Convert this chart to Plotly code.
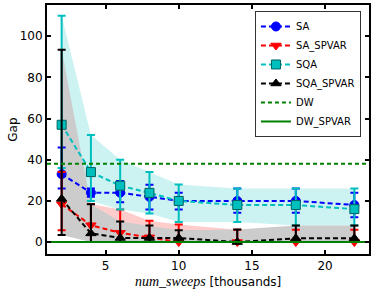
import plotly.graph_objects as go

# ---- data ----
num_sweeps = [2, 4, 6, 8, 10, 14, 18, 22]

sa_mean = [33, 24, 24, 22, 20, 20, 20, 18]
sa_low = [26, 22, 19.4, 15.8, 15.8, 14.2, 14.2, 12]
sa_high = [46, 26, 29.7, 27.9, 24, 26, 26, 24]

sa_spvar_mean = [18.4, 8.2, 4.5, 2.3, 0, 0, 0, 0]
sa_spvar_low = [5.8, 0, 0, 0, 0, 0, 0, 0]
sa_spvar_high = [34, 18.5, 15.8, 10.3, 8.5, 6, 6, 6]

sqa_mean = [57, 34, 27.4, 23.9, 20, 18, 18, 16]
sqa_low = [36, 20, 15.8, 13.9, 9.8, 9.8, 8, 8]
sqa_high = [110, 52, 40, 34, 28, 26, 26, 26]

sqa_spvar_mean = [21, 4.2, 2, 2, 2, 0, 1.8, 1.8]
sqa_spvar_low = [3.4, 0, 0, 0, 0, 0, 0, 0]
sqa_spvar_high = [93.4, 18.4, 10, 8, 5.8, 6.1, 8, 8]

dw_gap = 38
dw_spvar_gap = 0

x_range = [1, 23]
y_range = [-5.8, 115.2]
x_ticks = [5, 10, 15, 20]
y_ticks = [0, 20, 40, 60, 80, 100]

BLUE = "#0000ff"
RED = "#ff0000"
CYAN = "#00bfbf"
BLACK = "#000000"
GREEN = "#008000"

fig = go.Figure()


def band(low, high, color):
    fig.add_trace(go.Scatter(x=num_sweeps, y=low, mode="lines", line=dict(width=0),
                             showlegend=False, hoverinfo="skip"))
    fig.add_trace(go.Scatter(x=num_sweeps, y=high, mode="lines", line=dict(width=0),
                             fill="tonexty", fillcolor=color,
                             showlegend=False, hoverinfo="skip"))


band(sa_spvar_low, sa_spvar_high, "rgb(255,204,204)")
band(sqa_low, sqa_high, "rgb(204,242,242)")
band(sqa_spvar_low, sqa_spvar_high, "rgb(204,204,204)")


def series(name, mean, low, high, color, symbol, edge):
    plus = [h - m for h, m in zip(high, mean)]
    minus = [m - l for m, l in zip(mean, low)]
    fig.add_trace(go.Scatter(
        x=num_sweeps, y=mean, name=name, mode="lines+markers",
        line=dict(color=color, width=2, dash="5px,3px"),
        marker=dict(symbol=symbol, size=9, color=color, line=dict(color=edge, width=1)),
        error_y=dict(type="data", symmetric=False, array=plus, arrayminus=minus,
                     color=color, thickness=2, width=4),
    ))


series("SA", sa_mean, sa_low, sa_high, BLUE, "circle", BLUE)
series("SA_SPVAR", sa_spvar_mean, sa_spvar_low, sa_spvar_high, RED, "triangle-down", RED)
series("SQA", sqa_mean, sqa_low, sqa_high, CYAN, "square", "#006060")
series("SQA_SPVAR", sqa_spvar_mean, sqa_spvar_low, sqa_spvar_high, BLACK, "triangle-up", BLACK)

fig.add_trace(go.Scatter(x=x_range, y=[dw_gap, dw_gap], name="DW", mode="lines",
                         line=dict(color=GREEN, width=2, dash="4px,3px")))
fig.add_trace(go.Scatter(x=x_range, y=[dw_spvar_gap, dw_spvar_gap], name="DW_SPVAR", mode="lines",
                         line=dict(color=GREEN, width=2)))

axis_common = dict(showline=True, linecolor="black", linewidth=2, mirror="ticks",
                   ticks="inside", ticklen=4, tickwidth=1.5, tickcolor="black",
                   showgrid=False, zeroline=False,
                   tickfont=dict(family="DejaVu Sans", size=12, color="black"))

fig.update_layout(
    width=374, height=290,
    margin=dict(l=47, r=3, t=4, b=36),
    paper_bgcolor="white", plot_bgcolor="white",
    font=dict(family="DejaVu Sans", size=12, color="black"),
    xaxis=dict(range=x_range, tickvals=x_ticks, **axis_common),
    yaxis=dict(range=y_range, tickvals=y_ticks, **axis_common),
    legend=dict(x=0.975, y=0.976, xanchor="right", yanchor="top",
                bgcolor="white", bordercolor="#333", borderwidth=1,
                font=dict(family="DejaVu Sans", size=10, color="black"),
                tracegroupgap=0, itemwidth=30, traceorder="normal"),
    showlegend=True,
    annotations=[
        dict(text="<span style='font-family:Liberation Serif;font-size:14px'><i>num_sweeps</i></span> [thousands]",
             xref="paper", yref="paper", x=0.5, y=-0.112, xanchor="center", yanchor="middle",
             showarrow=False, font=dict(family="DejaVu Sans", size=12, color="black")),
        dict(text="Gap", xref="paper", yref="paper", x=-0.108, y=0.5, textangle=-90,
             xanchor="center", yanchor="middle", showarrow=False,
             font=dict(family="DejaVu Sans", size=12, color="black")),
    ],
)

fig.write_html("out.html", config={"displayModeBar": False},
               post_script="document.body.style.margin='0';document.body.style.padding='0';")
